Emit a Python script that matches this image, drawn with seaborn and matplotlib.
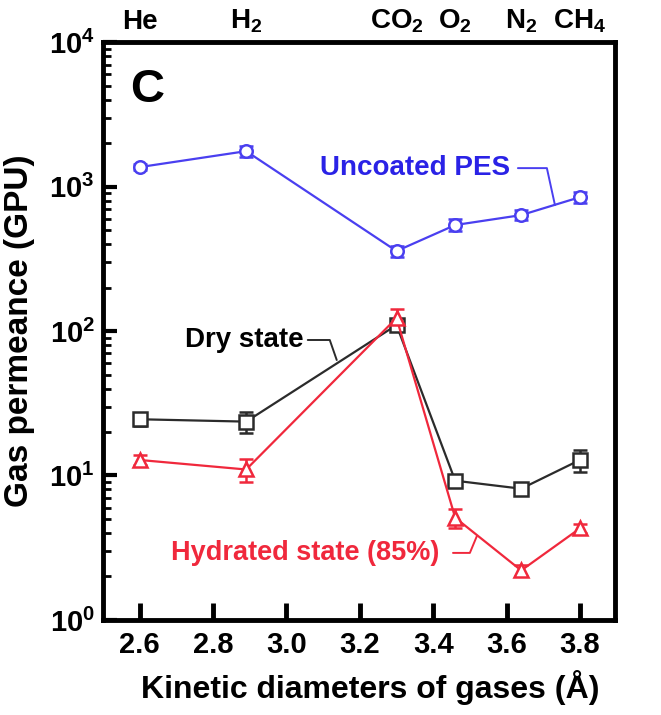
import matplotlib
matplotlib.use("Agg")
import matplotlib.pyplot as plt
from matplotlib.ticker import LogLocator, NullFormatter, FixedLocator
import numpy as np
import pandas as pd
import seaborn as sns

# ---- data ----
gases = ["He", "H2", "CO2", "O2", "N2", "CH4"]
gas_labels = ["He", r"H$_\mathbf{2}$", r"CO$_\mathbf{2}$", r"O$_\mathbf{2}$", r"N$_\mathbf{2}$", r"CH$_\mathbf{4}$"]
diameters = [2.60, 2.89, 3.30, 3.46, 3.64, 3.80]

uncoated = [1365, 1760, 358, 542, 635, 845]
uncoated_err = [70, 150, 30, 50, 50, 70]
dry = [24.5, 23.6, 110, 9.2, 8.1, 12.8]
dry_err = [2.5, 4.0, 10, 0.7, 0.7, 2.2]
hydrated = [12.8, 11.0, 123, 5.1, 2.2, 4.3]
hydrated_err = [1.0, 2.0, 18, 0.8, 0.2, 0.3]

x_ticks = [2.6, 2.8, 3.0, 3.2, 3.4, 3.6, 3.8]
y_ticks = [1, 10, 100, 1000, 10000]
y_tick_labels = [r"$\mathbf{10^{0}}$", r"$\mathbf{10^{1}}$", r"$\mathbf{10^{2}}$", r"$\mathbf{10^{3}}$", r"$\mathbf{10^{4}}$"]

c_unc = "#4a3ff0"
c_unc_text = "#2a22e6"
c_dry = "#2b2b2b"
c_hyd = "#f0283c"

sns.set_style("ticks", {"axes.edgecolor": "black", "text.color": "black",
                        "axes.labelcolor": "black", "xtick.color": "black",
                        "ytick.color": "black"})
plt.rcParams["font.family"] = ["Liberation Sans", "DejaVu Sans"]
plt.rcParams["font.weight"] = "bold"
plt.rcParams["mathtext.fontset"] = "custom"
plt.rcParams["mathtext.rm"] = "Liberation Sans:bold"
plt.rcParams["mathtext.bf"] = "Liberation Sans:bold"
plt.rcParams["mathtext.it"] = "Liberation Sans:bold"

fig = plt.figure(figsize=(6.61, 7.15), dpi=100)
ax = fig.add_axes([0.156, 0.133, 0.774, 0.808])

df = pd.DataFrame({"d": diameters, "unc": uncoated, "dry": dry, "hyd": hydrated})

series = [
    ("unc", uncoated_err, c_unc, "o", 9),
    ("dry", dry_err, c_dry, "s", 10),
    ("hyd", hydrated_err, c_hyd, "^", 10),
]
for col, err, color, mk, ms in series:
    ax.errorbar(df["d"], df[col], yerr=err, fmt="none", ecolor=color,
                elinewidth=1.8, capsize=5, capthick=1.8, zorder=2)
    sns.lineplot(data=df, x="d", y=col, ax=ax, color=color, lw=1.6,
                 marker=mk, markersize=ms, markerfacecolor="white",
                 markeredgecolor=color, markeredgewidth=1.8, zorder=3)

ax.set_yscale("log")
ax.set_xlim(2.5, 3.895)
ax.set_ylim(1, 10000)

ax.set_xticks(x_ticks)
ax.set_xticklabels([f"{v:.1f}" for v in x_ticks], fontsize=21, fontweight="bold")
ax.yaxis.set_major_locator(FixedLocator(y_ticks))
ax.set_yticklabels(y_tick_labels, fontsize=21)
ax.yaxis.set_minor_locator(LogLocator(base=10, subs=np.arange(2, 10)))
ax.yaxis.set_minor_formatter(NullFormatter())
ax.tick_params(axis="x", which="major", direction="in", length=12, width=3.5, pad=8)
ax.tick_params(axis="y", which="major", direction="in", length=10, width=3, pad=6)
ax.tick_params(axis="y", which="minor", direction="in", length=6, width=2)
ax.tick_params(top=False, right=False)

for s in ax.spines.values():
    s.set_linewidth(3.5)
    s.set_color("black")

ax.set_xlabel("Kinetic diameters of gases (Å)", fontsize=23, fontweight="bold", labelpad=8)
ax.set_ylabel("Gas permeance (GPU)", fontsize=24, fontweight="bold", labelpad=10)
ax.xaxis.label.set_x(0.523)

sec = ax.secondary_xaxis("top")
sec.set_xticks(diameters)
sec.set_xticklabels(gas_labels, fontsize=20, fontweight="bold")
sec.tick_params(length=0, pad=5)
sec.spines["top"].set_visible(False)

ax.text(2.619, 4700, "C", fontsize=34, fontweight="bold", ha="center", va="center")

# annotations with leader lines
ax.text(3.609, 1343, "Uncoated PES", color=c_unc_text, fontsize=20, fontweight="bold", ha="right", va="center")
ax.plot([3.631, 3.710, 3.732], [1343, 1343, 745], color=c_unc, lw=1.4)

ax.text(3.047, 86.7, "Dry state", color="black", fontsize=20, fontweight="bold", ha="right", va="center")
ax.plot([3.058, 3.118, 3.137], [86.7, 86.7, 63], color=c_dry, lw=1.4)

ax.text(3.418, 2.91, "Hydrated state (85%)", color=c_hyd, fontsize=19.5, fontweight="bold", ha="right", va="center")
ax.plot([3.454, 3.500, 3.519], [2.91, 2.91, 3.8], color=c_hyd, lw=1.4)

fig.savefig("out.png", dpi=100)
